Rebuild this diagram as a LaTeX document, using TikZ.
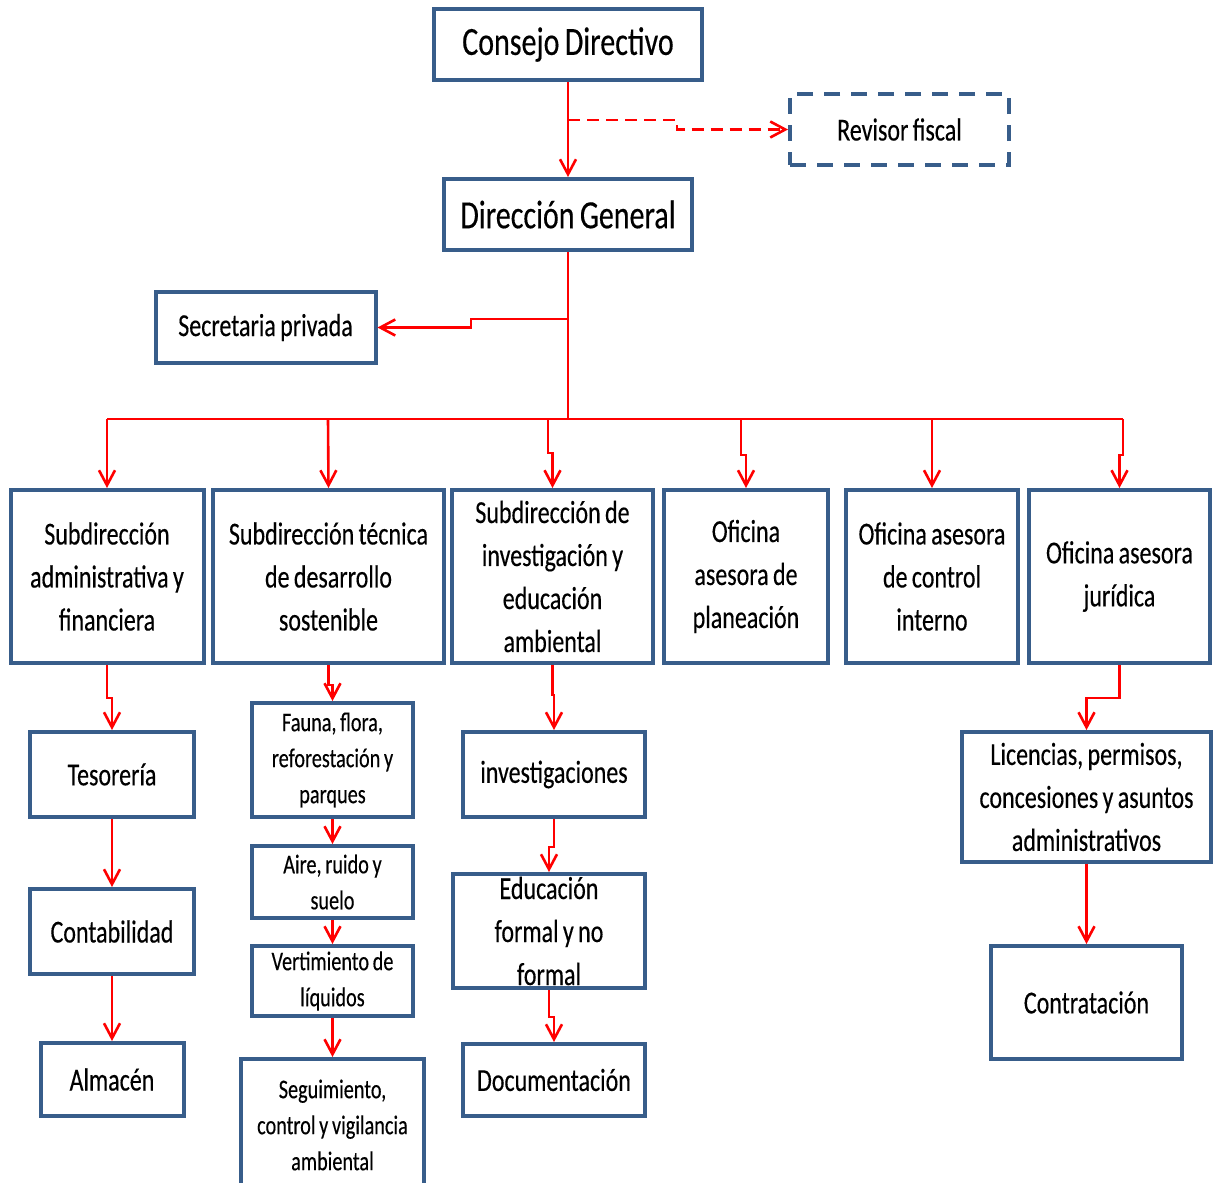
\documentclass[tikz,border=0pt]{standalone}
\usepackage{fontspec}
\setmainfont{Carlito}[FakeStretch=0.75, FakeBold=0.3, WordSpace=0.8]
\usetikzlibrary{arrows.meta}
\definecolor{boxblue}{RGB}{56,93,138}
\definecolor{linkred}{RGB}{255,0,0}

\begin{document}
\begin{tikzpicture}[x=1pt,y=-1pt,
  box/.style={draw=boxblue, line width=4pt, fill=white, inner sep=0pt,
    align=center, font=\fontsize{32}{43}\selectfont},
  bigtext/.style={font=\fontsize{40}{48}\selectfont},
  smalltext/.style={font=\fontsize{27}{36}\selectfont},
  size/.style 2 args={minimum width=#1pt, minimum height=#2pt},
  link/.style={draw=linkred, line width=2.6pt,
    -{Straight Barb[length=15pt,width=16pt]}},
  bus/.style={draw=linkred, line width=2.6pt},
]
\useasboundingbox (0,0) rectangle (1213,1183);

% top of the chart
\node[box, bigtext, size={268}{71}] (cd) at (568,44.5) {Consejo Directivo};
\node[box, size={219}{71}, dash pattern=on 16pt off 11pt] (rev) at (899.5,129.5) {Revisor fiscal};
\node[box, bigtext, size={248}{71}] (dg) at (568,214.5) {Dirección General};
\node[box, size={220}{71}] (sec) at (265.5,327.5) {Secretaria privada};

% second level
\node[box, size={193}{173}] (b1) at (107,576.5) {Subdirección\\administrativa y\\financiera};
\node[box, size={231}{173}] (b2) at (328.5,576.5) {Subdirección técnica\\de desarrollo\\sostenible};
\node[box, size={201}{173}] (b3) at (552.5,576.5) {Subdirección de\\investigación y\\educación\\ambiental};
\node[box, size={164}{173}] (b4) at (746,576.5) {Oficina\\asesora de\\planeación};
\node[box, size={172}{173}] (b5) at (932,576.5) {Oficina asesora\\de control\\interno};
\node[box, size={181}{173}] (b6) at (1119.5,576.5) {Oficina asesora\\jurídica};

% administrative column
\node[box, size={164}{85}] (tes) at (112,774.5) {Tesorería};
\node[box, size={164}{85}] (con) at (112,931.5) {Contabilidad};
\node[box, size={143}{73}] (alm) at (112,1079.5) {Almacén};

% technical column
\node[box, smalltext, size={161}{114}] (fau) at (332.5,760) {Fauna, flora,\\reforestación y\\parques};
\node[box, smalltext, size={161}{72}] (air) at (332.5,882) {Aire, ruido y\\suelo};
\node[box, smalltext, size={161}{70}] (ver) at (332.5,981) {Vertimiento de\\líquidos};
\node[box, smalltext, size={183}{132}] (seg) at (332.5,1125) {Seguimiento,\\control y vigilancia\\ambiental};

% research column
\node[box, size={182}{85}] (inv) at (554,774.5) {investigaciones};
\node[box, size={192}{114}] (edu) at (549,931) {Educación\\formal y no\\formal};
\node[box, size={182}{72}] (doc) at (554,1080) {Documentación};

% legal column
\node[box, size={249}{130}] (lic) at (1086.5,797) {Licencias, permisos,\\concesiones y asuntos\\administrativos};
\node[box, size={191}{113}] (ctr) at (1086.5,1002.5) {Contratación};

% junctions on the main trunk
\coordinate (rj) at (568,120);
\coordinate (sj) at (568,319);
\coordinate (tj) at (568,419);
\coordinate (d1) at (107,419);
\coordinate (d2) at (328,419);
\coordinate (d3) at (548,419);
\coordinate (d4) at (741,419);
\coordinate (d5) at (932,419);
\coordinate (d6) at (1123,419);

\draw[link] (cd.south) -- (dg.north);
\draw[link, dash pattern=on 12pt off 7pt] (rj) -- ++(109,0) |- (rev.west);
\draw[bus] (dg.south) -- (tj);
\draw[link] (sj) -- ++(-97,0) |- (sec.east);
\draw[bus] (d1) -- (d6);

\draw[link] (d1) -- (b1.north);
\draw[link] (d2) -- (b2.north);
\draw[link] (d3) -- ++(0,34) -| (b3.north);
\draw[link] (d4) -- ++(0,36) -| (b4.north);
\draw[link] (d5) -- (b5.north);
\draw[link] (d6) -- ++(0,36) -| (b6.north);

\draw[link] (b1.south) -- ++(0,33) -| (tes.north);
\draw[link] (tes.south) -- (con.north);
\draw[link] (con.south) -- (alm.north);

\draw[link] (b2.south) -- ++(0,20) -| (fau.north);
\draw[link] (fau.south) -- (air.north);
\draw[link] (air.south) -- (ver.north);
\draw[link] (ver.south) -- (seg.north);

\draw[link] (b3.south) -- ++(0,30) -| (inv.north);
\draw[link] (inv.south) -- ++(0,28) -| (edu.north);
\draw[link] (edu.south) -- ++(0,27) -| (doc.north);

\draw[link] (b6.south) -- ++(0,33) -| (lic.north);
\draw[link] (lic.south) -- (ctr.north);
\end{tikzpicture}
\end{document}
